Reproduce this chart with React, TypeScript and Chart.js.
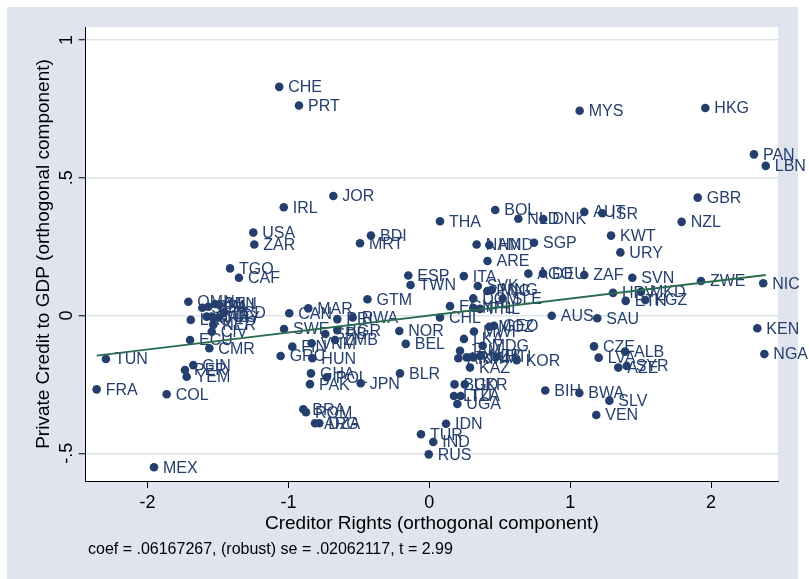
import React, { useEffect, useRef } from "react";
import { Chart, registerables } from "chart.js";

Chart.register(...registerables);

// ---- data ----
const countryCodes = [
  "CHE","PRT","JOR","IRL","USA","ZAR","BDI","MRT","MYS","HKG",
  "PAN","LBN","GBR","NZL","THA","BOL","NLD","DNK","AUT","ISR",
  "KWT","URY","NAM","HND","SGP","ARE","ITA","ESP","TWN","GTM",
  "AGO","DEU","ZAF","SVN","ZWE","NIC","KEN","NGA","HRV","MKD",
  "ETH","KGZ","AUS","SAU","CZE","LVA","ALB","AZE","SYR","BIH",
  "BWA","SLV","VEN","IDN","TUR","IND","RUS","UGA","LTU","TZA",
  "BGD","UKR","MWI","MOZ","GEO","LKA","MDG","JAM","ARM","TJK",
  "KHM","UZB","HTI","KOR","KAZ","SVK","PNG","MNG","DOM","SLE",
  "EGY","NPL","PHL","CHL","OMN","SEN","BFA","BEN","MLI","TCD",
  "GAB","COG","PRY","NER","CIV","LAO","ECU","CMR","TUN","FRA",
  "COL","GIN","PER","YEM","TGO","CAF","MEX","CAN","MAR","SWE",
  "PRI","RWA","SRB","BGR","ZMB","VNM","FIN","GRC","HUN","GHA",
  "PAK","POL","JPN","BLR","NOR","BEL","BRA","ROM","ARG","DZA"
];

const creditorRights = [
  -1.065,-0.925,-0.681,-1.033,-1.249,-1.242,-0.414,-0.492,1.067,1.959,
  2.304,2.388,1.905,1.791,0.076,0.468,0.632,0.809,1.100,1.228,
  1.290,1.356,0.336,0.426,0.743,0.413,0.245,-0.149,-0.133,-0.439,
  0.703,0.807,1.100,1.441,1.928,2.370,2.328,2.378,1.304,1.502,
  1.394,1.533,0.869,1.192,1.169,1.202,1.389,1.341,1.401,0.823,
  1.065,1.278,1.185,0.119,-0.059,0.028,-0.004,0.199,0.175,0.223,
  0.179,0.252,0.317,0.426,0.459,0.246,0.379,0.218,0.206,0.265,
  0.312,0.360,0.478,0.620,0.289,0.344,0.412,0.443,0.312,0.521,
  0.147,0.312,0.360,0.076,-1.710,-1.611,-1.568,-1.521,-1.490,-1.457,
  -1.580,-1.544,-1.498,-1.533,-1.544,-1.693,-1.698,-1.561,-2.295,-2.361,
  -1.864,-1.675,-1.734,-1.722,-1.414,-1.351,-1.954,-0.994,-0.859,-1.031,
  -0.653,-0.544,-0.738,-0.653,-0.669,-0.835,-0.972,-1.055,-0.830,-0.840,
  -0.847,-0.728,-0.487,-0.208,-0.213,-0.167,-0.894,-0.875,-0.811,-0.781
];

const privateCredit = [
  0.830,0.762,0.434,0.393,0.301,0.258,0.290,0.262,0.743,0.753,
  0.585,0.543,0.428,0.340,0.342,0.383,0.351,0.350,0.376,0.371,
  0.290,0.229,0.258,0.256,0.264,0.198,0.143,0.145,0.111,0.059,
  0.152,0.152,0.147,0.137,0.125,0.117,-0.046,-0.140,0.082,0.086,
  0.053,0.056,-0.001,-0.010,-0.112,-0.153,-0.131,-0.189,-0.183,-0.272,
  -0.281,-0.309,-0.361,-0.393,-0.431,-0.459,-0.504,-0.321,-0.292,-0.292,
  -0.250,-0.250,-0.058,-0.041,-0.037,-0.085,-0.110,-0.128,-0.155,-0.152,
  -0.152,-0.147,-0.150,-0.162,-0.189,0.107,0.089,0.093,0.062,0.062,
  0.034,0.028,0.024,-0.007,0.050,0.028,0.032,0.042,0.038,0.012,
  -0.004,-0.004,-0.007,-0.034,-0.059,-0.016,-0.089,-0.119,-0.158,-0.268,
  -0.286,-0.180,-0.198,-0.222,0.171,0.137,-0.551,0.008,0.026,-0.049,
  -0.013,-0.007,-0.067,-0.053,-0.089,-0.101,-0.113,-0.147,-0.155,-0.210,
  -0.249,-0.224,-0.246,-0.210,-0.056,-0.103,-0.340,-0.351,-0.391,-0.391
];

const fitX = [-2.361, 2.388];
const fitY = [-0.146, 0.147];

const xTickValues = [-2, -1, 0, 1, 2];
const xTickLabels = ["-2", "-1", "0", "1", "2"];
const yTickValues = [-0.5, 0, 0.5, 1];
const yTickLabels = ["-.5", "0", ".5", "1"];

const xTitle = "Creditor Rights (orthogonal component)";
const yTitle = "Private Credit to GDP (orthogonal component)";
const noteText = "coef = .06167267, (robust) se = .02062117, t = 2.99";

// ---- styles ----
const FONT = "'Liberation Sans', Arial, Helvetica, sans-serif";
const NAVY = "#243f6d";
const GREEN = "#2b6c50";
const REGION = "#dfe4ee";
const GRID = "#dde3ee";
const W = 809;
const H = 579;

export default function App() {
  const canvasRef = useRef<HTMLCanvasElement | null>(null);

  useEffect(() => {
    const canvas = canvasRef.current;
    if (!canvas) return;

    const backgroundPlugin = {
      id: "bgPlugin",
      beforeDraw(chart: any) {
        const { ctx, chartArea } = chart;
        ctx.save();
        ctx.fillStyle = "#ffffff";
        ctx.fillRect(0, 0, W, H);
        ctx.fillStyle = REGION;
        ctx.fillRect(7, 7, W - 7 - 11, H - 7);
        ctx.fillStyle = "#ffffff";
        ctx.fillRect(
          chartArea.left,
          chartArea.top,
          chartArea.right - chartArea.left,
          chartArea.bottom - chartArea.top
        );
        ctx.restore();
      },
    };

    const labelPlugin = {
      id: "pointLabels",
      beforeDatasetsDraw(chart: any) {
        const meta = chart.getDatasetMeta(1);
        const { ctx } = chart;
        ctx.save();
        ctx.font = `16px ${FONT}`;
        ctx.fillStyle = NAVY;
        ctx.textAlign = "left";
        ctx.textBaseline = "middle";
        meta.data.forEach((pt: any, i: number) => {
          ctx.fillText(countryCodes[i], pt.x + 9, pt.y + 1);
        });
        ctx.restore();
      },
    };

    const notePlugin = {
      id: "notePlugin",
      afterDraw(chart: any) {
        const { ctx } = chart;
        ctx.save();
        ctx.font = `16px ${FONT}`;
        ctx.fillStyle = "#000000";
        ctx.textAlign = "left";
        ctx.textBaseline = "middle";
        ctx.fillText(noteText, 88, 550);
        ctx.restore();
      },
    };

    const chart = new Chart(canvas, {
      type: "scatter",
      data: {
        datasets: [
          {
            label: "fit",
            data: fitX.map((x, i) => ({ x, y: fitY[i] })),
            showLine: true,
            borderColor: GREEN,
            borderWidth: 1.8,
            pointRadius: 0,
            fill: false,
          },
          {
            label: "countries",
            data: creditorRights.map((x, i) => ({ x, y: privateCredit[i] })),
            backgroundColor: NAVY,
            borderWidth: 0,
            pointRadius: 4.3,
          },
        ],
      },
      options: {
        responsive: false,
        animation: false,
        events: [],
        layout: { padding: { left: 7, top: 27, right: 31, bottom: 0 } },
        plugins: {
          legend: { display: false },
          tooltip: { enabled: false },
        },
        scales: {
          x: {
            type: "linear",
            min: -2.4386,
            max: 2.4748,
            afterBuildTicks: (scale: any) => {
              scale.ticks = xTickValues.map((v) => ({ value: v }));
            },
            afterFit: (scale: any) => {
              scale.height = 98;
            },
            ticks: {
              autoSkip: false,
              maxRotation: 0,
              minRotation: 0,
              padding: 4,
              color: "#000000",
              font: { family: FONT, size: 18 },
              callback: (_v: any, i: number) => xTickLabels[i],
            },
            grid: {
              drawOnChartArea: false,
              drawTicks: true,
              tickLength: 7,
              tickColor: "#000000",
              tickWidth: 1,
            },
            border: { display: true, color: "#000000", width: 1 },
            title: {
              display: true,
              text: xTitle,
              color: "#000000",
              font: { family: FONT, size: 19 },
              padding: { top: 0, bottom: 44 },
            },
          },
          y: {
            type: "linear",
            min: -0.6007,
            max: 1.0472,
            afterBuildTicks: (scale: any) => {
              scale.ticks = yTickValues.map((v) => ({ value: v }));
            },
            afterFit: (scale: any) => {
              scale.width = 78.7;
            },
            ticks: {
              autoSkip: false,
              minRotation: 90,
              maxRotation: 90,
              crossAlign: "center",
              padding: 1,
              color: "#000000",
              font: { family: FONT, size: 18 },
              callback: (_v: any, i: number) => yTickLabels[i],
            },
            grid: {
              color: GRID,
              lineWidth: 1.5,
              drawTicks: true,
              tickLength: 7,
              tickColor: "#000000",
              tickWidth: 1,
            },
            border: { display: true, color: "#000000", width: 1 },
            title: {
              display: true,
              text: yTitle,
              color: "#000000",
              font: { family: FONT, size: 19 },
              padding: { top: 25, bottom: 0 },
            },
          },
        },
      } as any,
      plugins: [backgroundPlugin, labelPlugin, notePlugin],
    });

    return () => {
      chart.destroy();
    };
  }, []);

  return (
    <div style={{ position: "absolute", left: 0, top: 0, width: W, height: H }}>
      <canvas ref={canvasRef} width={W} height={H} style={{ display: "block" }} />
    </div>
  );
}
